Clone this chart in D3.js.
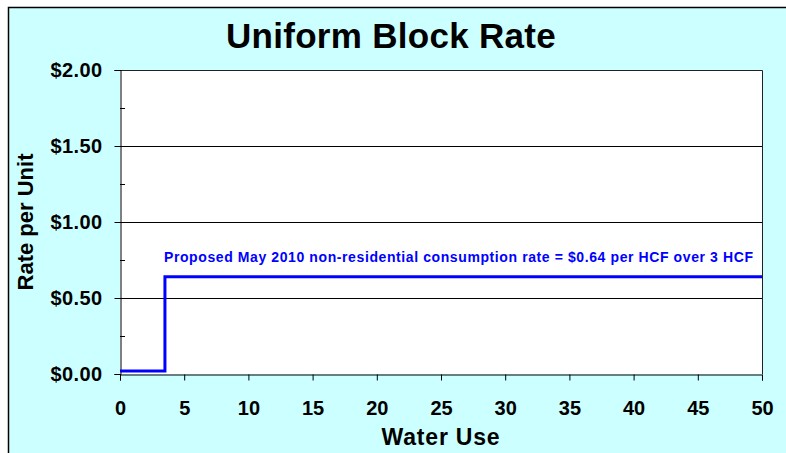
<!DOCTYPE html>
<html>
<head>
<meta charset="utf-8">
<script src="https://cdn.jsdelivr.net/npm/d3@7"></script>
<style>
  body { margin: 0; background: #fff; }
  text { font-family: Arial, "Liberation Sans", sans-serif; font-weight: bold; }
</style>
</head>
<body>
<script>
// data
const waterUse = [0, 3.5, 50];
const rate = [0.02, 0.64, 0.64];
const xTicks = [0, 5, 10, 15, 20, 25, 30, 35, 40, 45, 50];
const yTicks = [0, 0.5, 1, 1.5, 2];
const yMinor = [0.25, 0.75, 1.25, 1.75];
const title = "Uniform Block Rate";
const note = "Proposed May 2010 non-residential consumption rate = $0.64 per HCF over 3 HCF";

const width = 786, height = 453;
const margin = { top: 70, right: 24, bottom: 79, left: 120 };

const svg = d3.select("body").append("svg")
  .attr("width", width)
  .attr("height", height);

// chart area background
svg.append("rect")
  .attr("x", 8.5).attr("y", 7.5)
  .attr("width", 820).attr("height", 480)
  .attr("fill", "#CCFFFF")
  .attr("stroke", "#000")
  .attr("stroke-width", 1.5);

const x = d3.scaleLinear().domain([0, 50]).range([margin.left, width - margin.right]);
const y = d3.scaleLinear().domain([0, 2]).range([height - margin.bottom, margin.top]);

// plot area
svg.append("rect")
  .attr("x", x(0)).attr("y", y(2))
  .attr("width", x(50) - x(0)).attr("height", y(0) - y(2))
  .attr("fill", "#fff");

// gridlines
svg.append("g")
  .selectAll("line")
  .data(yTicks.filter(d => d > 0 && d < 2))
  .join("line")
  .attr("x1", x(0)).attr("x2", x(50))
  .attr("y1", d => Math.round(y(d)) + 0.5).attr("y2", d => Math.round(y(d)) + 0.5)
  .attr("stroke", "#000");

// top & right border
svg.append("path")
  .attr("d", `M${x(0)},${y(2) + 0.5}H${x(50) + 0.5}V${y(0)}`)
  .attr("fill", "none")
  .attr("stroke", "#222");

// y axis
const yAxis = svg.append("g")
  .attr("transform", `translate(${x(0) + 0.5},0)`)
  .call(d3.axisLeft(y).tickValues(yTicks).tickSize(6).tickPadding(12)
    .tickFormat(d => "$" + d3.format(".2f")(d)));
yAxis.select(".domain").attr("stroke", "#000");
yAxis.selectAll("text").attr("font-size", 20).attr("font-family", null).attr("fill", "#000")
  .attr("letter-spacing", 0.4);

svg.append("g")
  .selectAll("line")
  .data(yMinor)
  .join("line")
  .attr("x1", x(0)).attr("x2", x(0) + 5)
  .attr("y1", d => Math.round(y(d)) + 0.5).attr("y2", d => Math.round(y(d)) + 0.5)
  .attr("stroke", "#000");

// x axis
const xAxis = svg.append("g")
  .attr("transform", `translate(0,${y(0) + 0.5})`)
  .call(d3.axisBottom(x).tickValues(xTicks).tickSize(6).tickPadding(20));
xAxis.select(".domain").attr("stroke", "#000");
xAxis.selectAll("text").attr("font-size", 20).attr("font-family", null).attr("fill", "#000");

// step line
const pts = waterUse.map((d, i) => [d, rate[i]]);
svg.append("path")
  .datum(pts)
  .attr("fill", "none")
  .attr("stroke", "#0000FF")
  .attr("stroke-width", 3)
  .attr("d", d3.line().x(d => x(d[0])).y(d => y(d[1])).curve(d3.curveStepAfter));

// annotation
svg.append("text")
  .attr("x", x(waterUse[1]) - 1)
  .attr("y", y(rate[1]) - 15)
  .attr("fill", "#0000FF")
  .attr("font-size", 14)
  .attr("textLength", 589)
  .attr("lengthAdjust", "spacing")
  .text(note);

// title
svg.append("text")
  .attr("x", 391).attr("y", 48)
  .attr("text-anchor", "middle")
  .attr("font-size", 35)
  .attr("letter-spacing", 0.3)
  .text(title);

// axis titles
svg.append("text")
  .attr("x", 441).attr("y", 445)
  .attr("text-anchor", "middle")
  .attr("font-size", 23)
  .attr("letter-spacing", 0.8)
  .text("Water Use");

svg.append("text")
  .attr("transform", `translate(33,${(y(0) + y(2)) / 2}) rotate(-90)`)
  .attr("text-anchor", "middle")
  .attr("font-size", 22)
  .text("Rate per Unit");
</script>
</body>
</html>
